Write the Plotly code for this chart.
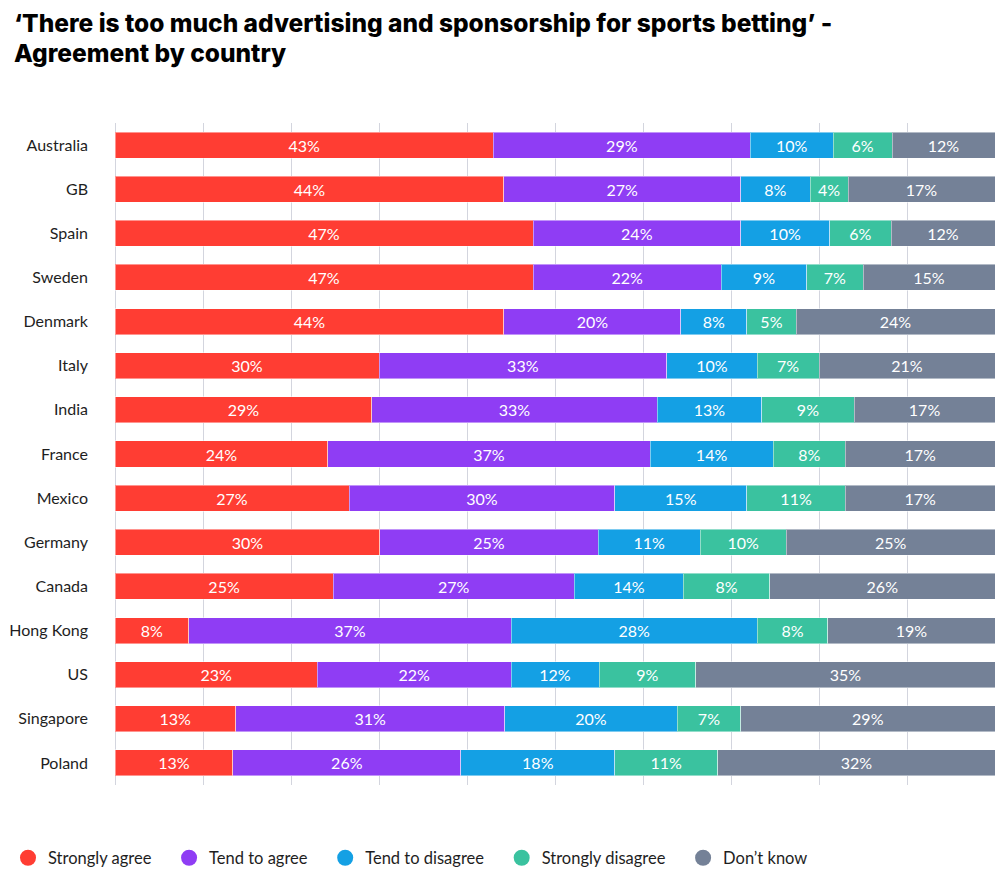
import plotly.graph_objects as go

countries = ["Australia", "GB", "Spain", "Sweden", "Denmark", "Italy", "India", "France",
             "Mexico", "Germany", "Canada", "Hong Kong", "US", "Singapore", "Poland"]

# segment widths as drawn (share of respondents, %)
strongly_agree = [43.0, 44.2, 47.5, 47.5, 44.2, 30.0, 29.2, 24.2, 26.6, 30.1, 24.8, 8.4, 23.0, 13.7, 13.4]
tend_to_agree = [29.2, 26.9, 23.6, 21.4, 20.1, 32.7, 32.4, 36.6, 30.2, 24.8, 27.4, 36.6, 22.0, 30.6, 25.9]
tend_to_disagree = [9.4, 7.9, 10.1, 9.7, 7.5, 10.3, 11.9, 14.0, 15.0, 11.6, 12.4, 28.0, 10.0, 19.6, 17.5]
strongly_disagree = [6.7, 4.3, 7.0, 6.4, 5.6, 7.0, 10.5, 8.2, 11.2, 9.8, 9.8, 8.0, 11.0, 7.2, 11.7]
dont_know = [11.7, 16.7, 11.8, 15.0, 22.6, 20.0, 16.0, 17.0, 17.0, 23.7, 25.6, 19.0, 34.0, 28.9, 31.5]

# printed labels
strongly_agree_lbl = [43, 44, 47, 47, 44, 30, 29, 24, 27, 30, 25, 8, 23, 13, 13]
tend_to_agree_lbl = [29, 27, 24, 22, 20, 33, 33, 37, 30, 25, 27, 37, 22, 31, 26]
tend_to_disagree_lbl = [10, 8, 10, 9, 8, 10, 13, 14, 15, 11, 14, 28, 12, 20, 18]
strongly_disagree_lbl = [6, 4, 6, 7, 5, 7, 9, 8, 11, 10, 8, 8, 9, 7, 11]
dont_know_lbl = [12, 17, 12, 15, 24, 21, 17, 17, 17, 25, 26, 19, 35, 29, 32]

series = [
    ("Strongly agree", strongly_agree, strongly_agree_lbl, "#FF3D33"),
    ("Tend to agree", tend_to_agree, tend_to_agree_lbl, "#8F3DF4"),
    ("Tend to disagree", tend_to_disagree, tend_to_disagree_lbl, "#14A0E4"),
    ("Strongly disagree", strongly_disagree, strongly_disagree_lbl, "#3AC29F"),
    ("Don\u2019t know", dont_know, dont_know_lbl, "#748197"),
]

title_lines = [
    "\u2018There is too much advertising and sponsorship for sports betting\u2019 -",
    "Agreement by country",
]

FONT = "Lato"
PAD = "\u00a0" * 3  # widens legend entries

# the page body adds an 8px offset, so the figure is 8px smaller than the window
W, H = 1000, 872
M_L, M_R, M_T, M_B = 107, 13, 115, 95
plot_w = W - M_L - M_R
plot_h = H - M_T - M_B

fig = go.Figure()

for name, values, labels, color in series:
    fig.add_trace(go.Bar(
        y=countries,
        x=values,
        orientation="h",
        name=name,
        marker=dict(color=color, line=dict(color="rgba(255,255,255,0.45)", width=1)),
        text=[f"{v}%" for v in labels],
        textposition="inside",
        insidetextanchor="middle",
        textfont=dict(family=FONT, size=16, color="white"),
        constraintext="none",
        showlegend=False,
        hoverinfo="skip",
    ))

# circular legend markers
for name, values, labels, color in series:
    fig.add_trace(go.Scatter(
        x=[None], y=[None],
        mode="markers",
        name=name + PAD,
        marker=dict(symbol="circle", size=16, color=color),
    ))

# title, one annotation per line to get the tight line spacing
for i, line in enumerate(title_lines):
    fig.add_annotation(
        text=line,
        xref="paper", yref="paper",
        x=(4 - M_L) / plot_w, y=1 + (M_T - 15 - 29.5 * i) / plot_h,
        xanchor="left", yanchor="middle", align="left",
        showarrow=False,
        font=dict(family="Inter", size=24.5, color="black", weight=800),
    )

fig.update_layout(
    width=W,
    height=H,
    barmode="stack",
    bargap=0.41,
    plot_bgcolor="white",
    paper_bgcolor="white",
    margin=dict(l=M_L, r=M_R, t=M_T, b=M_B, autoexpand=False),
    legend=dict(
        orientation="h",
        traceorder="normal",
        xref="container",
        yref="container",
        x=0,
        xanchor="left",
        y=1 - 850 / H,
        yanchor="middle",
        font=dict(family=FONT, size=16.5, color="#1E1E1E"),
        itemsizing="trace",
    ),
    font=dict(family=FONT),
)

fig.update_xaxes(
    range=[0, 100],
    dtick=10,
    showticklabels=False,
    showgrid=True,
    gridcolor="#D3D5DE",
    gridwidth=1,
    zeroline=True,
    zerolinecolor="#D3D5DE",
    zerolinewidth=1,
    fixedrange=True,
    automargin=False,
)

fig.update_yaxes(
    categoryorder="array",
    categoryarray=countries,
    autorange="reversed",
    showgrid=False,
    ticks="",
    ticklabelstandoff=26,
    automargin=False,
    tickfont=dict(family=FONT, size=16, color="#1E1E1E"),
)

fig.write_html("out.html")
